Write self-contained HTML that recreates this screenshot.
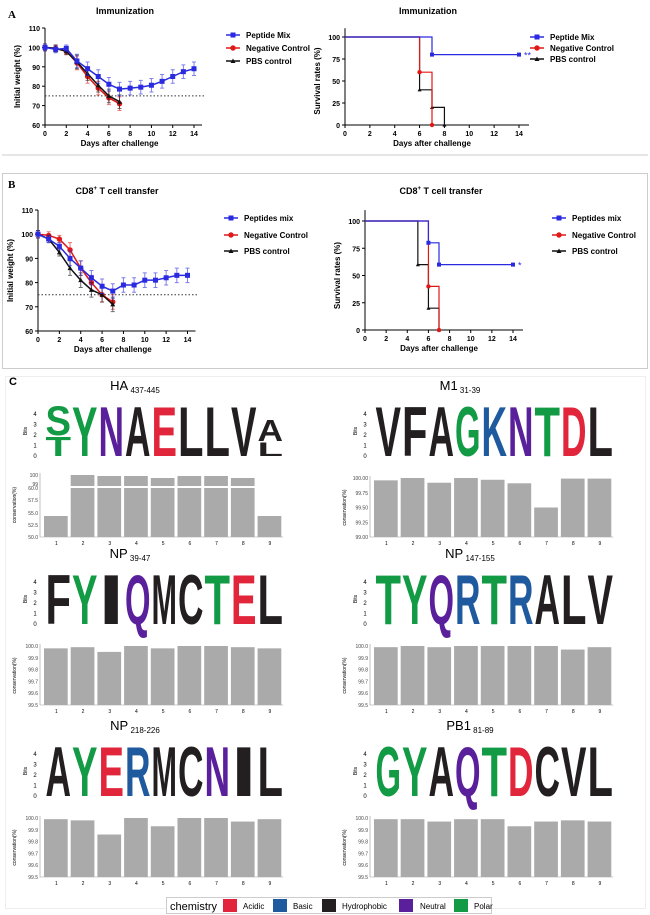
<!DOCTYPE html><html><head><meta charset="utf-8"><style>body{margin:0;background:#fff}svg{display:block;font-family:"Liberation Sans",Arial,sans-serif}</style></head><body>
<svg id="s" width="650" height="915" xmlns="http://www.w3.org/2000/svg"></svg>
<script>
(function(){
const s=document.getElementById('s');let h='';
const B='#2a2ae0',R='#e01818',K='#111';
h+='<line x1="2" y1="155" x2="648" y2="155" stroke="#ccc"/>';
h+='<rect x="2.5" y="173.5" width="645" height="195" fill="none" stroke="#ccc"/>';
h+='<rect x="5.5" y="376.5" width="640" height="532" fill="none" stroke="#eee"/>';
h+='<text x="8" y="18" font-family="Liberation Serif" font-weight="bold" font-size="11">A</text>';
h+='<text x="8" y="188" font-family="Liberation Serif" font-weight="bold" font-size="11">B</text>';
h+='<text x="9" y="385" font-size="11" font-weight="bold">C</text>';
function mark(m,x,y,c,r){if(m=='s')return `<rect x="${x-r}" y="${y-r}" width="${2*r}" height="${2*r}" fill="${c}"/>`;if(m=='c')return `<circle cx="${x}" cy="${y}" r="${r+0.2}" fill="${c}"/>`;return `<path d="M${x-r},${y+r*0.8}h${2*r}l${-r},${-r*1.8}z" fill="${c}"/>`;}
function wchart(x0,x1,ytop,ybot,title,tx,ty,data,err){
 const X=d=>x0+(x1-x0)*d/14,Y=v=>ybot-(ybot-ytop)*(v-60)/50;
 h+=`<text x="${tx}" y="${ty}" font-size="9" font-weight="bold" text-anchor="middle">${title}</text>`;
 h+=`<path d="M${x0},${ytop}V${ybot}H${x1+8}" fill="none" stroke="#000"/>`;
 for(let v=60;v<=110;v+=10){h+=`<line x1="${x0-3}" x2="${x0}" y1="${Y(v)}" y2="${Y(v)}" stroke="#000"/><text x="${x0-5}" y="${Y(v)+3}" font-size="7" font-weight="bold" text-anchor="end">${v}</text>`;}
 for(let d=0;d<=14;d+=2){h+=`<line x1="${X(d)}" x2="${X(d)}" y1="${ybot}" y2="${ybot+3}" stroke="#000"/><text x="${X(d)}" y="${ybot+11}" font-size="7" font-weight="bold" text-anchor="middle">${d}</text>`;}
 h+=`<text x="${(x0+x1)/2}" y="${ybot+21}" font-size="8" font-weight="bold" text-anchor="middle">Days after challenge</text>`;
 h+=`<text transform="translate(${x0-25},${(ytop+ybot)/2}) rotate(-90)" font-size="8" font-weight="bold" text-anchor="middle">Initial weight (%)</text>`;
 h+=`<line x1="${x0}" x2="${x1+10}" y1="${Y(75)}" y2="${Y(75)}" stroke="#333" stroke-dasharray="1.5,2"/>`;
 [[data[1],R,'c'],[data[2],K,'t'],[data[0],B,'s']].forEach(([a,c,m])=>{
  h+=`<polyline points="${a.map((v,d)=>X(d)+','+Y(v)).join(' ')}" fill="none" stroke="${c}" stroke-width="1.5"/>`;
  a.forEach((v,d)=>{const e=err*(d>2?1:0.5);h+=`<path d="M${X(d)},${Y(v-e)}V${Y(v+e)}M${X(d)-2},${Y(v-e)}h4M${X(d)-2},${Y(v+e)}h4" stroke="${c}" stroke-opacity=".6" fill="none"/>`;
   h+=mark(m,X(d),Y(v),c,2.5);});
 });
}
function schart(x0,x1,ytop,ybot,title,tx,ty,series,star){
 const X=d=>x0+(x1-x0)*d/14,Y=v=>ybot-(ybot-ytop)*v/100;
 h+=`<text x="${tx}" y="${ty}" font-size="9" font-weight="bold" text-anchor="middle">${title}</text>`;
 h+=`<path d="M${x0},${Y(110)}V${ybot}H${x1+10}" fill="none" stroke="#000"/>`;
 for(let v=0;v<=100;v+=25){h+=`<line x1="${x0-3}" x2="${x0}" y1="${Y(v)}" y2="${Y(v)}" stroke="#000"/><text x="${x0-5}" y="${Y(v)+3}" font-size="7" font-weight="bold" text-anchor="end">${v}</text>`;}
 for(let d=0;d<=14;d+=2){h+=`<line x1="${X(d)}" x2="${X(d)}" y1="${ybot}" y2="${ybot+3}" stroke="#000"/><text x="${X(d)}" y="${ybot+11}" font-size="7" font-weight="bold" text-anchor="middle">${d}</text>`;}
 h+=`<text x="${(x0+x1)/2}" y="${ybot+21}" font-size="8" font-weight="bold" text-anchor="middle">Days after challenge</text>`;
 h+=`<text transform="translate(${x0-25},${(ytop+ybot)/2}) rotate(-90)" font-size="8" font-weight="bold" text-anchor="middle">Survival rates (%)</text>`;
 series.forEach(([st,c,m,end])=>{let p=`M${X(0)},${Y(100)}`,v=100;st.forEach(([d,nv])=>{p+=`H${X(d)}V${Y(nv)}`;v=nv;});if(end)p+=`H${X(end)}`;
  h+=`<path d="${p}" fill="none" stroke="${c}" stroke-width="1.2"/>`;
  st.forEach(([d,nv])=>{h+=mark(m,X(d),Y(nv),c,2);});
  if(end)h+=mark(m,X(end),Y(v),c,2)+`<text x="${X(end)+5}" y="${Y(v)+4}" font-size="9" fill="${c}">${star}</text>`;});
}
function legend(x,ys,names){[[B,'s'],[R,'c'],[K,'t']].forEach(([c,m],i)=>{const y=ys[i];h+=`<line x1="${x}" x2="${x+14}" y1="${y}" y2="${y}" stroke="${c}" stroke-width="1.5"/>`+mark(m,x+7,y,c,2.5);
 h+=`<text x="${x+20}" y="${y+3}" font-size="8" font-weight="bold">${names[i]}</text>`;});}
wchart(45,194,28,125,'Immunization',125,14,[[100,99,99.5,93,89,85,81,78.5,79,79.5,80.5,82.5,85,87.5,89],[100,99.5,98,92,85,79,74,71],[100,99.5,98,92.5,86.5,80.5,75,72]],3.5);
legend(226,[35,48,61],['Peptide Mix','Negative Control','PBS control']);
schart(345,519,37,125,'Immunization',428,14,[[[[6,40],[7,20],[8,0]],K,'t'],[[[6,60],[7,0]],R,'c'],[[[7,80]],B,'s',14]],'**');
legend(530,[37,48,59],['Peptide Mix','Negative Control','PBS control']);
const cd='CD8<tspan font-size="6" dy="-4">+</tspan><tspan dy="4"> T cell transfer</tspan>';
wchart(38,187.5,210,331,cd,117,194,[[100,98,95,90,86,82,78.5,76.5,79,79,81,81,82,83,83],[100,99.5,98,93.5,86,80,75,72],[100,98,92.5,86,81,77,75,71]],3);
legend(224,[218,235,251],['Peptides mix','Negative Control','PBS control']);
schart(365,513,221,330,cd,441,194,[[[[5,60],[6,20],[7,0]],K,'t'],[[[6,40],[7,0]],R,'c'],[[[6,80],[7,60]],B,'s',14]],'*');
legend(552,[218,235,251],['Peptides mix','Negative Control','PBS control']);
const C={g:'#129a45',b:'#1f5a9e',k:'#231f20',p:'#5a1f9a',r:'#e1253a'};
function logo(x0,yb,title,sub,letters,tx){
 h+=`<text x="${tx}" y="${yb-66}" font-size="13" text-anchor="middle">${title}<tspan font-size="8" dy="3"> ${sub}</tspan></text>`;
 for(let i=0;i<=4;i++)h+=`<text x="${x0-10}" y="${yb-i*10.5+2}" font-size="6" text-anchor="middle">${i}</text>`;
 h+=`<text transform="translate(${x0-18},${yb-25}) rotate(-90)" font-size="5" text-anchor="middle">Bits</text>`;
 const w=26.5;
 letters.forEach((L,i)=>{const x=x0+i*w;L.forEach(([ch,c,top,bot])=>{const fs=(bot-top)/0.72;
  h+=`<text x="${x+0.5}" y="${yb-51+bot}" font-size="${fs}" font-weight="bold" fill="${C[c]}" textLength="${w-1}" lengthAdjust="spacingAndGlyphs">${ch}</text>`;});});
}
function full(s,cols){return s.split('').map((c,i)=>[[c,cols[i],0,51]]);}
function bars(x0,yb,yt,vals,ticks){
 const w=26.7;
 h+=`<path d="M${x0-3},${yt-2}V${yb}H${x0+9*w}" fill="none" stroke="#999" stroke-width=".6"/>`;
 ticks.forEach((t,i)=>{const y=yb-(yb-yt)*i/(ticks.length-1);h+=`<text x="${x0-5}" y="${y+2}" font-size="5" fill="#444" text-anchor="end">${t}</text>`;});
 h+=`<text transform="translate(${x0-27},${(yt+yb)/2}) rotate(-90)" font-size="5" text-anchor="middle">conservation(%)</text>`;
 vals.forEach((v,i)=>{const y=yb-(yb-yt)*v;h+=`<rect x="${x0+i*w+1}" y="${y}" width="${w-3}" height="${yb-y}" fill="#aaa"/><text x="${x0+i*w+w/2}" y="${yb+8}" font-size="5" text-anchor="middle">${i+1}</text>`;});
}
const T5=['99.5','99.6','99.7','99.8','99.9','100.0'];
logo(45,456,'HA','437-445',[[['S','g',0,30],['T','g',31,51]]].concat(full('YNAELLV','gpkrkkk')).concat([[['A','k',14,36],['L','k',37,51]]]),135);
{const x0=43,w=26.7;h+=`<path d="M40,473V537H${x0+9*w}" fill="none" stroke="#999" stroke-width=".6"/>`;
 [['50.0',537],['52.5',525],['55.0',513],['57.5',500],['60.0',488],['99',484],['100',475]].forEach(([t,y])=>h+=`<text x="38" y="${y+2}" font-size="5" fill="#444" text-anchor="end">${t}</text>`);
 h+=`<text transform="translate(16,505) rotate(-90)" font-size="5" text-anchor="middle">conservation(%)</text>`;
 const up=[0,475,476,476,478,476,476,478,0];
 for(let i=0;i<9;i++){const x=x0+i*w+1;if(up[i]){h+=`<rect x="${x}" y="488" width="${w-3}" height="49" fill="#aaa"/><rect x="${x}" y="${up[i]}" width="${w-3}" height="${486-up[i]}" fill="#aaa"/>`;}else h+=`<rect x="${x}" y="516" width="${w-3}" height="21" fill="#aaa"/>`;
 h+=`<text x="${x0+i*w+w/2}" y="545" font-size="5" text-anchor="middle">${i+1}</text>`;}}
logo(375,456,'M1','31-39',full('VFAGKNTDL','kkkgbpgrk'),460);
bars(373,537,478,[.96,1,.92,1,.97,.91,.5,.99,.99],['99.00','99.25','99.50','99.75','100.00']);
logo(45,624,'NP','39-47',full('FYIQMCTEL','kgkpkkgrk'),130);
bars(43,705,646,[.98,.99,.95,1,.98,1,1,.99,.98].map(v=>(v-.5)*2),T5);
logo(375,624,'NP','147-155',full('TYQRTRALV','ggpbgbkkk'),470);
bars(373,705,646,[.99,1,.99,1,1,1,1,.97,.99].map(v=>(v-.5)*2),T5);
logo(45,796,'NP','218-226',full('AYERMCNIL','kgrbkkpkk'),135);
bars(43,877,818,[.99,.98,.86,1,.93,1,1,.97,.99].map(v=>(v-.5)*2),T5);
logo(375,796,'PB1','81-89',full('GYAQTDCVL','ggkpgrkkk'),470);
bars(373,877,818,[.99,.99,.97,.99,.99,.93,.97,.98,.97].map(v=>(v-.5)*2),T5);
h+='<rect x="166.5" y="897.5" width="325" height="16" fill="#fff" stroke="#ccc"/><text x="170" y="910" font-size="11">chemistry</text>';
[['r',223,'Acidic',243],['b',273,'Basic',293],['k',322,'Hydrophobic',342],['p',399,'Neutral',420],['g',454,'Polar',474]].forEach(([c,x,t,tx])=>h+=`<rect x="${x}" y="899" width="14" height="13" fill="${C[c]}"/><text x="${tx}" y="909" font-size="8">${t}</text>`);
s.innerHTML=h;
})();
</script>
</body></html>
